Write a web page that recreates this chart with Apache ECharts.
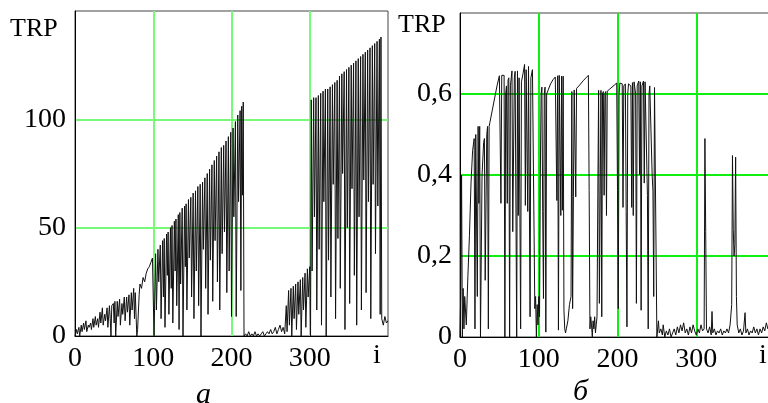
<!DOCTYPE html>
<html>
<head>
<meta charset="utf-8">
<script src="https://cdn.jsdelivr.net/npm/echarts@6/dist/echarts.min.js"></script>
<style>
html,body{margin:0;padding:0;background:#fff;}
#c{width:768px;height:403px;}
</style>
</head>
<body>
<div id="c"></div>
<script>
// Panel "а": TRP vs i
const aX = [0,2,3,5,6,8,9,11,12,14,15,17,18,20,21,23,24,26,27,29,30,32,33,35,36,38,39,41,42,44,45,46,47,49,50,51,52,54,55,57,58,60,61,63,64,66,67,69,70,72,73,75,76,77,79,80,82,83,85,87,89,91,93,95,97,99,
100,101,103,104,106,107,109,110,112,113,114,115,117,118,119,120,122,123,124,125,127,128,129,130,132,133,134,135,137,138,140,141,142,143,145,146,148,149,151,152,154,155,157,158,160,161,163,164,166,167,169,170,172,173,175,176,178,179,181,182,184,185,187,188,190,191,193,194,196,197,199,200,202,203,205,206,208,209,211,212,213,214,215,216,
218,220,222,224,226,228,230,232,234,236,238,240,242,244,246,248,250,252,254,256,258,260,262,264,266,268,270,271,273,274,276,277,279,280,282,283,285,286,288,289,291,292,294,295,297,298,300,301,
302,303,305,306,308,309,311,312,314,315,317,318,320,321,323,324,326,327,329,330,332,333,335,336,338,339,341,342,344,345,347,348,350,351,353,354,356,357,359,360,362,363,365,366,368,369,371,372,374,375,377,378,380,381,383,384,386,387,389,390,391,392,394,396,398,400];
const aY = [0,3,1,4,0,5,2,6,3,7,2,5,4,6,3,8,4,9,5,8,4,11,6,13,5,10,7,13,4,14,8,0,14,15,6,16,0,16,9,17,5,15,10,18,7,18,11,19,5,20,12,22,8,20,0,3,19,24,22,27,25,29,31,32,34,36,
36,0,38,12,40,25,42,8,44,18,45,4,47,28,48,10,50,22,51,6,53,30,54,14,56,3,57,24,59,0,60,32,61,12,63,36,64,18,66,8,67,30,69,14,70,0,71,40,73,22,75,10,77,35,79,16,81,44,83,25,85,12,87,38,88,48,90,20,92,30,94,9,96,55,99,9,102,62,104,21,106,65,108,0,
1,0,2,0,1,0,2,0,1,0,1,2,0,1,2,1,3,1,2,4,1,3,5,2,4,1,14,2,21,5,22,0,23,8,24,3,25,10,26,0,27,12,29,4,31,18,32,0,
109,30,110,55,110,12,111,40,112,5,113,62,114,0,114,35,115,18,116,70,117,8,118,45,120,22,121,75,122,3,123,50,124,15,125,68,126,28,127,5,128,55,129,12,130,72,131,20,132,62,133,8,134,70,135,38,136,60,137,10,138,8,5,9,6,7];

// Panel "б": TRP vs i
const bX = [0,1,2,3,4,5,6,8,10,12,14,16,18,19,20,21,22,23,24,25,26,28,30,31,32,34,35,36,37,38,41,44,47,50,51,52,53,55,56,57,58,59,60,61,62,63,64,66,67,68,69,70,71,72,73,74,75,77,78,80,82,83,84,86,87,88,89,90,92,94,95,96,97,98,99,100,101,102,103,104,105,106,107,108,109,
110,112,115,118,121,122,123,124,125,126,127,128,129,130,131,132,133,134,135,137,139,141,142,143,144,145,146,147,148,151,154,157,160,163,164,165,166,167,168,169,170,171,172,173,174,175,176,177,178,179,180,181,182,183,184,185,186,187,190,193,196,199,200,201,202,203,204,206,207,208,210,211,212,213,214,216,217,218,219,220,221,222,223,224,225,227,228,229,230,231,233,234,235,237,238,239,240,241,243,244,245,246,247,248,249,250,
252,253,255,257,258,260,262,264,266,268,270,272,274,276,278,280,282,284,286,288,290,292,294,296,298,300,302,304,306,308,310,311,312,313,315,317,319,320,321,323,325,327,329,331,333,335,337,339,341,343,345,346,347,348,349,350,351,352,354,356,358,360,362,363,365,367,369,371,373,375,377,379,381,383,385,387,389,391,393,395,397,399];
const bY = [0,0.12,0.40,0,0.12,0.02,0.10,0.03,0.15,0.25,0.38,0.46,0.49,0.02,0.50,0.50,0.10,0.52,0.33,0.52,0,0.40,0.48,0.49,0.14,0.50,0.52,0.02,0.52,0.53,0.56,0.59,0.62,0.645,0.646,0.33,0.646,0.646,0.646,0,0.60,0.62,0.33,0.634,0.64,0,0.62,0.657,0.26,0.26,0.64,0.656,0.656,0,0.657,0.30,0.64,0.02,0.63,0.65,0.673,0.325,0.66,0.31,0.668,0.667,0.05,0.64,0.66,0.663,0.07,0.10,0,0.08,0.03,0.10,0.05,0.40,0.60,0.617,0.31,0.095,0.60,0.617,0.012,
0.60,0.61,0.625,0.635,0.642,0.64,0.337,0.645,0.017,0.646,0.645,0.30,0.644,0.313,0.644,0.066,0.02,0.01,0.02,0.04,0.08,0.10,0.606,0.07,0.346,0.61,0.613,0.346,0.614,0.62,0.627,0.634,0.64,0.646,0.362,0.02,0.05,0.03,0,0.04,0.02,0.05,0.01,0.03,0.05,0.35,0.609,0.083,0.35,0.609,0.05,0.60,0.606,0.35,0.60,0.606,0.30,0.607,0.612,0.617,0.622,0.627,0.362,0.07,0.60,0.627,0.625,0.625,0.32,0.62,0.625,0.31,0.025,0.60,0.625,0.628,0.62,0.32,0.628,0.30,0.63,0.63,0.60,0.083,0.62,0.632,0.40,0.63,0.066,0.62,0.632,0.38,0.63,0.63,0.35,0.02,0.60,0.62,0.621,0.40,0.36,0.10,0.616,0.617,0.615,0,
0.04,0.01,0.02,0.005,0.03,0,0.015,0.005,0.02,0,0.01,0.02,0.005,0.025,0.01,0.03,0.015,0.035,0.01,0.02,0.005,0.025,0.01,0.03,0.015,0.005,0.02,0.01,0.03,0.015,0.02,0.49,0.26,0.02,0.01,0.025,0.005,0.063,0.01,0.02,0.005,0.015,0.01,0.02,0.005,0.015,0.01,0.02,0.01,0.03,0.08,0.448,0.265,0.20,0.228,0.444,0.10,0.03,0.01,0.02,0.005,0.015,0.06,0.01,0.02,0.005,0.015,0.01,0.025,0.01,0.02,0.005,0.02,0.01,0.025,0.015,0.035,0.02,0.03,0.015,0.025,0.02];

const aXTicks = [0, 100, 200, 300];
const aYTicks = [0, 50, 100];
const bYTicks = [0, 0.2, 0.4, 0.6];
const yTitle = 'TRP';
const xTitle = 'i';
const panelLabels = ['а', 'б'];

const FONT = '"Liberation Serif", "DejaVu Serif", serif';
const GREEN_A = '#78fa78';
const GREEN_B = '#10f010';
const chart = echarts.init(document.getElementById('c'));

const aData = aX.map((x, i) => [x, aY[i]]);
const bData = bX.map((x, i) => [x, bY[i]]);

function xAxisCfg(gi) {
  return {
    type: 'value', gridIndex: gi, min: 0, max: 400, interval: 100,
    axisLine: {show: true, lineStyle: {color: '#000', width: 1}},
    axisTick: {show: false},
    axisLabel: {
      margin: 9, color: '#000', fontFamily: FONT, fontSize: 28,
      formatter: v => (aXTicks.indexOf(v) >= 0 ? String(v) : '')
    },
    splitLine: {show: true, showMinLine: false, showMaxLine: false,
      lineStyle: {color: gi === 0 ? GREEN_A : GREEN_B, width: 2}}
  };
}

const option = {
  animation: false,
  backgroundColor: '#fff',
  grid: [
    {left: 75, top: 11, width: 313, height: 325, show: true, borderColor: '#444', borderWidth: 1,
     containLabel: false, outerBoundsMode: 'none'},
    {left: 460, top: 13, right: -7, height: 324, show: true, borderColor: '#444', borderWidth: 1,
     containLabel: false, outerBoundsMode: 'none'}
  ],
  xAxis: [xAxisCfg(0), xAxisCfg(1)],
  yAxis: [
    {
      type: 'value', gridIndex: 0, min: 0, max: 150, interval: 50,
      axisLine: {show: true, lineStyle: {color: '#000'}},
      axisTick: {show: false},
      axisLabel: {margin: 9, color: '#000', fontFamily: FONT, fontSize: 28,
        formatter: v => (aYTicks.indexOf(v) >= 0 ? String(v) : '')},
      splitLine: {show: true, showMinLine: false, showMaxLine: false,
        lineStyle: {color: GREEN_A, width: 2}}
    },
    {
      type: 'value', gridIndex: 1, min: 0, max: 0.8, interval: 0.2,
      axisLine: {show: true, lineStyle: {color: '#000'}},
      axisTick: {show: false},
      axisLabel: {margin: 8, color: '#000', fontFamily: FONT, fontSize: 28,
        formatter: v => {
          const hit = bYTicks.find(t => Math.abs(t - v) < 1e-9);
          if (hit === undefined) return '';
          return hit === 0 ? '0' : hit.toFixed(1).replace('.', ',');
        }},
      splitLine: {show: true, showMinLine: false, showMaxLine: false,
        lineStyle: {color: GREEN_B, width: 2}}
    }
  ],
  series: [
    {type: 'line', xAxisIndex: 0, yAxisIndex: 0, data: aData, showSymbol: false, symbol: 'none',
     lineStyle: {color: '#111', width: 1}, clip: true},
    {type: 'line', xAxisIndex: 1, yAxisIndex: 1, data: bData, showSymbol: false, symbol: 'none',
     lineStyle: {color: '#111', width: 1}, clip: true}
  ],
  graphic: [
    {type: 'text', left: 10, top: 16, style: {text: yTitle, font: '26px ' + FONT, fill: '#000'}},
    {type: 'text', left: 398, top: 12, style: {text: yTitle, font: '26px ' + FONT, fill: '#000'}},
    {type: 'text', left: 373, top: 342, style: {text: xTitle, font: '28px ' + FONT, fill: '#000'}},
    {type: 'text', left: 759, top: 342, style: {text: xTitle, font: '28px ' + FONT, fill: '#000'}},
    {type: 'text', left: 196, top: 380, style: {text: panelLabels[0], font: 'italic 30px ' + FONT, fill: '#000'}},
    {type: 'text', left: 573, top: 377, style: {text: panelLabels[1], font: 'italic 30px ' + FONT, fill: '#000'}}
  ]
};
chart.setOption(option);
</script>
</body>
</html>
